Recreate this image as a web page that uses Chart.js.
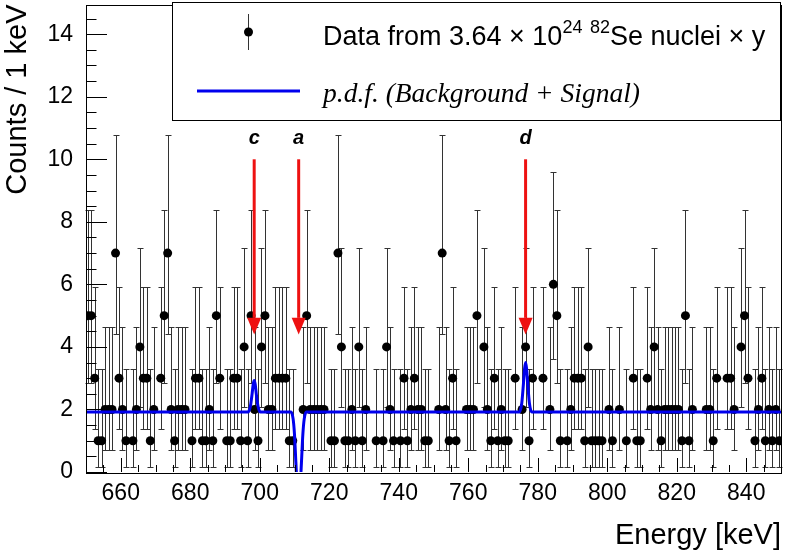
<!DOCTYPE html>
<html>
<head>
<meta charset="utf-8">
<script src="https://cdn.jsdelivr.net/npm/chart.js@4.4.1/dist/chart.umd.min.js"></script>
<style>
  html, body { margin: 0; padding: 0; background: #fff; }
  #wrap { width: 786px; height: 553px; }
</style>
</head>
<body>
<div id="wrap"><canvas id="spectrum" width="786" height="553"></canvas></div>
<script>
// counts per 1 keV bin, first bin starts at 650 keV
const firstBin = 650;
const counts = [
  5, 5, 3, 1, 1, 2, 2, 2, 7, 3,   2, 1, 0, 1, 2, 4, 3, 3, 1, 2,
  0, 3, 5, 7, 2, 1, 2, 2, 2, 0,   1, 3, 3, 1, 1, 2, 1, 5, 3, 0,
  1, 1, 3, 3, 1, 4, 1, 5, 2, 1,   4, 5, 2, 2, 3, 3, 3, 3, 1, 1,
  0, 0, 2, 5, 2, 2, 2, 2, 2, 0,   1, 1, 7, 4, 1, 1, 2, 1, 4, 1,
  2, 0, 0, 1, 0, 1, 4, 2, 1, 0,   1, 3, 1, 2, 3, 2, 2, 1, 1, 0,
  0, 2, 7, 2, 1, 3, 1, 0, 0, 2,   2, 2, 5, 0, 4, 2, 1, 3, 1, 2,
  1, 1, 0, 3, 0, 2, 4, 1, 3, 0,   0, 3, 0, 2, 6, 5, 1, 0, 1, 2,
  3, 3, 3, 1, 4, 1, 1, 1, 1, 0,   2, 1, 0, 2, 0, 1, 0, 3, 1, 1,
  0, 3, 2, 4, 2, 1, 2, 2, 2, 2,   2, 1, 5, 1, 2, 0, 0, 0, 2, 2,
  1, 3, 0, 0, 3, 3, 2, 0, 4, 5,   3, 0, 1, 2, 3, 1, 2, 1, 2, 1
];
// Poisson 68% interval half-widths, indexed by count
const errLow  = [0, 0.827, 1.292, 1.633, 1.914, 2.159, 2.380, 2.581];
const errHigh = [0, 2.299, 2.637, 2.918, 3.162, 3.382, 3.583, 3.770];

// fitted p.d.f.
const pdfEnergy = [650, 696.6, 697.3, 697.8, 698.1, 698.4, 698.7, 699.0, 699.5, 700.2,
  709.0, 709.6, 710.0, 710.4, 710.8, 711.2, 711.6, 712.0, 712.4, 712.8, 713.4,
  774.7, 775.4, 775.9, 776.2, 776.5, 776.8, 777.1, 777.6, 778.3, 850];
const pdfValue = [1.92, 1.92, 2.1, 2.5, 2.8, 2.93, 2.8, 2.5, 2.1, 1.92,
  1.92, 1.7, 1.2, 0.3, -0.55, -0.8, -0.55, 0.3, 1.2, 1.7, 1.92,
  1.92, 2.2, 2.85, 3.3, 3.5, 3.3, 2.85, 2.2, 1.92, 1.92];

// signal lines
const arrowEnergy = [698.4, 711.2, 776.5];
const arrowNames = ['c', 'a', 'd'];
const arrowTop = 10.0, arrowHeadBase = 4.93, arrowTip = 4.4, arrowLabelY = 10.67;

const xLabelTicks = [660, 680, 700, 720, 740, 760, 780, 800, 820, 840];
const yLabelTicks = [0, 2, 4, 6, 8, 10, 12, 14];

const FONT = '"Liberation Sans", Arial, Helvetica, sans-serif';

const dataPoints = [];
counts.forEach((n, i) => { if (n > 0) dataPoints.push({ x: firstBin + i + 0.5, y: n }); });
const pdfPoints = pdfEnergy.map((e, i) => ({ x: e, y: pdfValue[i] }));

const decor = {
  id: 'decor',
  beforeDatasetsDraw(chart) {
    const { ctx, scales: { x, y } } = chart;
    ctx.save();
    ctx.strokeStyle = '#333';
    ctx.lineWidth = 1;
    counts.forEach((n, i) => {
      if (n <= 0) return;
      const px = Math.round(x.getPixelForValue(firstBin + i + 0.5)) + 0.5;
      const lo = Math.round(y.getPixelForValue(n - errLow[n])) + 0.5;
      const hi = Math.round(y.getPixelForValue(n + errHigh[n])) + 0.5;
      ctx.beginPath();
      ctx.moveTo(px, lo); ctx.lineTo(px, hi);
      ctx.moveTo(px - 3, lo); ctx.lineTo(px + 3, lo);
      ctx.moveTo(px - 3, hi); ctx.lineTo(px + 3, hi);
      ctx.stroke();
    });
    ctx.restore();
  },
  afterDatasetsDraw(chart) {
    const { ctx, chartArea: a, scales: { x, y } } = chart;
    ctx.save();
    // frame and tick marks
    ctx.strokeStyle = '#000';
    ctx.lineWidth = 1;
    ctx.strokeRect(Math.round(a.left) + 0.5, Math.round(a.top) + 0.5,
      Math.round(a.right - a.left), Math.round(a.bottom - a.top));
    ctx.beginPath();
    for (let v = 0; v <= y.max + 1e-6; v += 0.5) {
      const py = Math.round(y.getPixelForValue(v)) + 0.5;
      const len = (v % 2 === 0) ? 21 : 10.5;
      ctx.moveTo(a.left, py); ctx.lineTo(a.left + len, py);
    }
    for (let v = 650; v <= 850; v += 5) {
      const px = Math.round(x.getPixelForValue(v)) + 0.5;
      const len = (v % 20 === 0) ? 14 : 7;
      ctx.moveTo(px, a.bottom); ctx.lineTo(px, a.bottom - len);
    }
    ctx.stroke();

    // red arrows
    arrowEnergy.forEach((e, i) => {
      const px = x.getPixelForValue(e);
      const top = y.getPixelForValue(arrowTop);
      const base = y.getPixelForValue(arrowHeadBase);
      const tip = y.getPixelForValue(arrowTip);
      ctx.strokeStyle = '#ee1111';
      ctx.fillStyle = '#ee1111';
      ctx.lineWidth = 3;
      ctx.beginPath();
      ctx.moveTo(px, top); ctx.lineTo(px, base);
      ctx.stroke();
      ctx.beginPath();
      ctx.moveTo(px - 7, base); ctx.lineTo(px + 7, base); ctx.lineTo(px, tip);
      ctx.closePath();
      ctx.fill();
      ctx.fillStyle = '#000';
      ctx.font = 'bold italic 20px ' + FONT;
      ctx.textAlign = 'center';
      ctx.textBaseline = 'middle';
      ctx.fillText(arrowNames[i], px, y.getPixelForValue(arrowLabelY));
    });

    // legend box
    const L = 172, T = 2, R = 781, B = 120;
    ctx.fillStyle = '#fff';
    ctx.fillRect(L, T, R - L, B - T);
    ctx.strokeStyle = '#000';
    ctx.lineWidth = 1;
    ctx.strokeRect(L + 0.5, T + 0.5, R - L - 1, B - T);

    // data entry
    ctx.strokeStyle = '#333';
    ctx.beginPath();
    ctx.moveTo(248.5, 14); ctx.lineTo(248.5, 50);
    ctx.stroke();
    ctx.fillStyle = '#000';
    ctx.beginPath();
    ctx.arc(248.5, 32, 4.5, 0, Math.PI * 2);
    ctx.fill();

    ctx.textAlign = 'left';
    ctx.textBaseline = 'alphabetic';
    let tx = 323;
    const base1 = 45;
    const big = '27px ' + FONT, small = '18px ' + FONT;
    const parts = [
      ['Data from 3.64 \u00d7 10', big, 0],
      ['24', small, -12],
      [' ', big, 0],
      ['82', small, -12],
      ['Se nuclei \u00d7 y', big, 0]
    ];
    parts.forEach(([s, f, dy]) => {
      ctx.font = f;
      ctx.fillText(s, tx, base1 + dy);
      tx += ctx.measureText(s).width;
    });

    // pdf entry
    ctx.strokeStyle = '#0000ee';
    ctx.lineWidth = 3;
    ctx.beginPath();
    ctx.moveTo(197, 91); ctx.lineTo(300, 91);
    ctx.stroke();
    ctx.font = 'italic 27.5px "Liberation Serif", "Times New Roman", serif';
    ctx.fillText('p.d.f. (Background + Signal)', 323, 102);
    ctx.restore();
  }
};

new Chart(document.getElementById('spectrum'), {
  type: 'scatter',
  data: {
    datasets: [
      {
        label: 'p.d.f. (Background + Signal)',
        type: 'line',
        data: pdfPoints,
        borderColor: '#0000ee',
        borderWidth: 3,
        pointRadius: 0,
        cubicInterpolationMode: 'monotone',
        fill: false,
        order: 0
      },
      {
        label: 'Data',
        data: dataPoints,
        backgroundColor: '#000',
        borderColor: '#000',
        pointRadius: 4.5,
        borderWidth: 0,
        order: 1
      }
    ]
  },
  options: {
    responsive: false,
    animation: false,
    events: [],
    layout: { padding: { left: 0, right: 5, top: 4, bottom: 0 } },
    plugins: { legend: { display: false }, tooltip: { enabled: false } },
    scales: {
      x: {
        type: 'linear',
        min: 650,
        max: 850,
        afterBuildTicks: s => { s.ticks = xLabelTicks.map(v => ({ value: v })); },
        afterFit: s => { s.height = 81; s.paddingLeft = 0; s.paddingRight = 0; },
        grid: { display: false, drawTicks: false },
        border: { display: false },
        ticks: { color: '#000', font: { family: FONT, size: 23 }, padding: 8, autoSkip: false, maxRotation: 0 },
        title: { display: true, text: 'Energy [keV]', align: 'end', color: '#000',
                 font: { family: FONT, size: 29 }, padding: { top: 0, bottom: 0 } }
      },
      y: {
        min: 0,
        max: 14.95,
        afterBuildTicks: s => { s.ticks = yLabelTicks.map(v => ({ value: v })); },
        afterFit: s => { s.width = 86; s.paddingTop = 0; s.paddingBottom = 0; },
        grid: { display: false, drawTicks: false },
        border: { display: false },
        ticks: { color: '#000', font: { family: FONT, size: 23 }, padding: 13, autoSkip: false },
        title: { display: true, text: 'Counts / 1 keV', align: 'end', color: '#000',
                 font: { family: FONT, size: 29 }, padding: { top: 1, bottom: 0 } }
      }
    }
  },
  plugins: [decor]
});
</script>
</body>
</html>
